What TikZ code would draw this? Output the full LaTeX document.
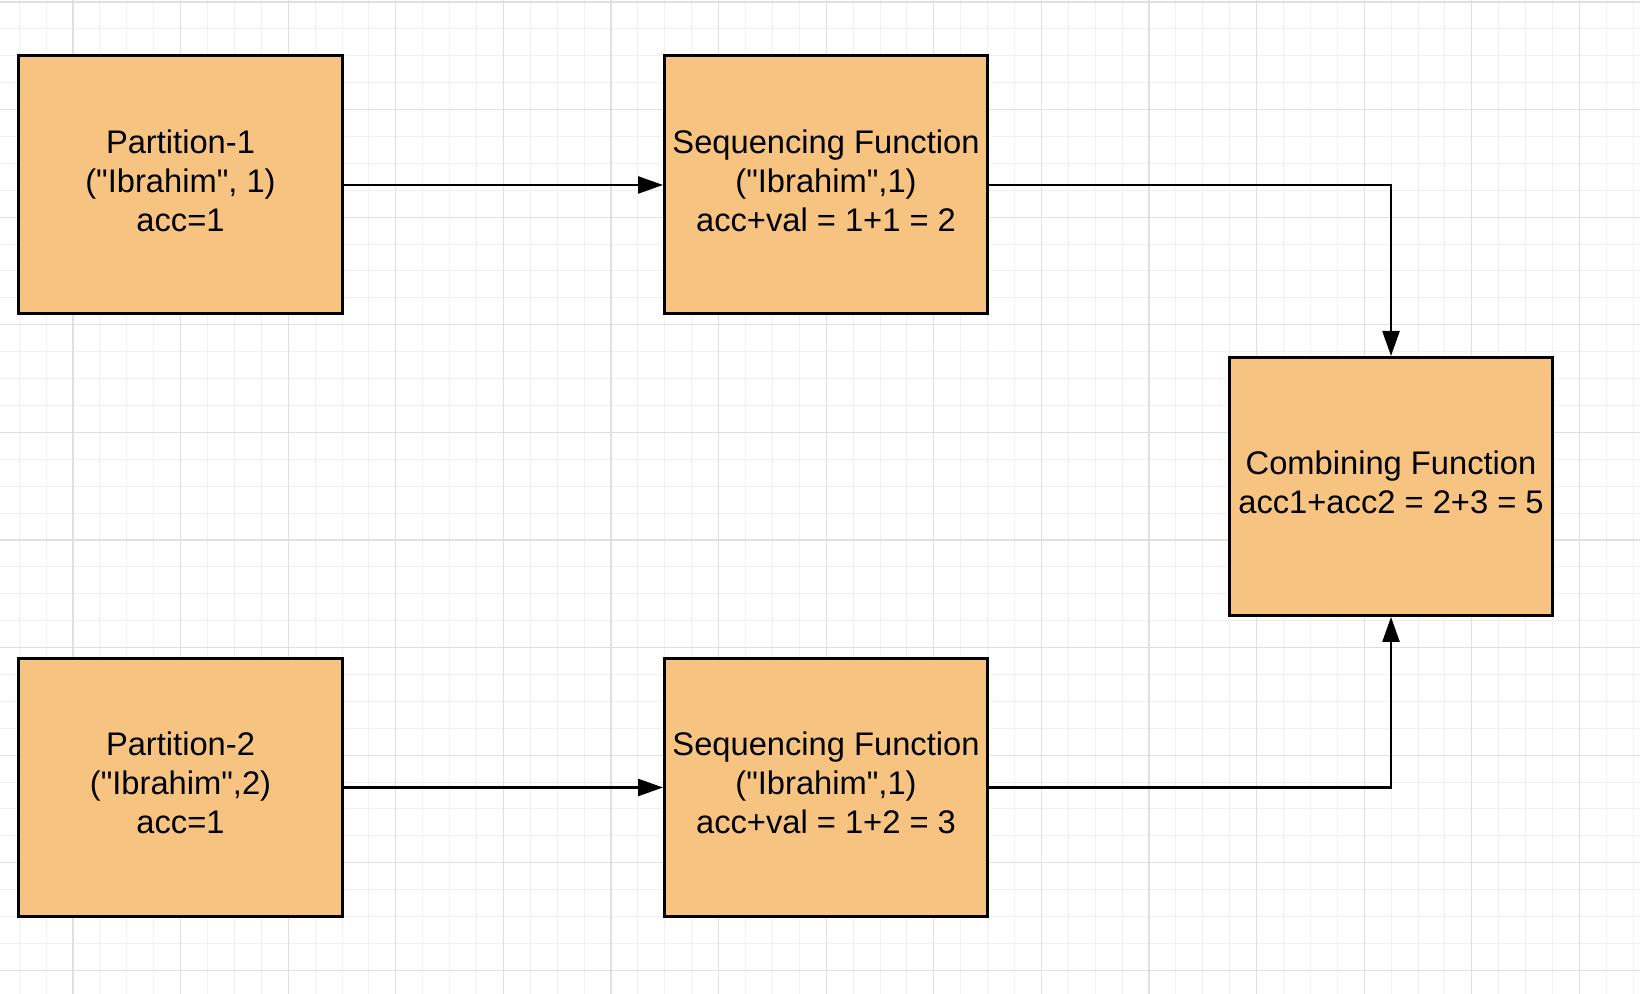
\documentclass[tikz,border=0pt]{standalone}
\usepackage{fontspec}
\setmainfont{Liberation Sans}
\usetikzlibrary{arrows.meta}
\definecolor{boxfill}{HTML}{F6C381}
\definecolor{gridminor}{HTML}{F0F0F0}
\definecolor{gridmajor}{HTML}{E0E0E0}
\newcommand{\dq}{\textquotedbl}

\begin{document}
\begin{tikzpicture}[
	box/.style={rectangle,draw,line width=0.03cm,fill=boxfill,minimum width=3.23cm,minimum height=2.58cm,inner sep=0pt,align=center,text depth=0.09cm,font=\fontsize{9.3}{11.1}\selectfont},
	conn/.style={line width=0.025cm,-{Triangle[length=0.25cm,width=0.17cm]}}
]
	\fill[white](0,0) rectangle (16.4,9.94);
	\useasboundingbox (0,0) rectangle (16.4,9.94);
	% background grid
	\foreach \k in {0,...,60}
		\draw[gridminor,line width=0.01cm]({0.192+0.269*\k},0)--({0.192+0.269*\k},9.94);
	\foreach \k in {0,...,36}
		\draw[gridminor,line width=0.01cm](0,{9.92-0.269*\k})--(16.4,{9.92-0.269*\k});
	\foreach \k in {0,...,14}
		\draw[gridmajor,line width=0.012cm]({0.73+1.076*\k},0)--({0.73+1.076*\k},9.94);
	\foreach \k in {0,...,9}
		\draw[gridmajor,line width=0.012cm](0,{9.92-1.076*\k})--(16.4,{9.92-1.076*\k});
	
	\node[box](part1) at (1.805,8.09){Partition-1\\(\dq Ibrahim\dq, 1)\\acc=1};
	\node[box](seq1) at (8.26,8.09){Sequencing Function\\(\dq Ibrahim\dq,1)\\acc+val = 1+1 = 2};
	\node[box](comb) at (13.91,5.075){Combining Function\\acc1+acc2 = 2+3 = 5};
	\node[box](part2) at (1.805,2.065){Partition-2\\(\dq Ibrahim\dq,2)\\acc=1};
	\node[box](seq2) at (8.26,2.065){Sequencing Function\\(\dq Ibrahim\dq,1)\\acc+val = 1+2 = 3};
	\draw[conn](part1)--(seq1);
	\draw[conn](part2)--(seq2);
	\draw[conn](seq1.east)-|(comb.north);
	\draw[conn](seq2.east)-|(comb.south);
	
\end{tikzpicture}
\end{document}
